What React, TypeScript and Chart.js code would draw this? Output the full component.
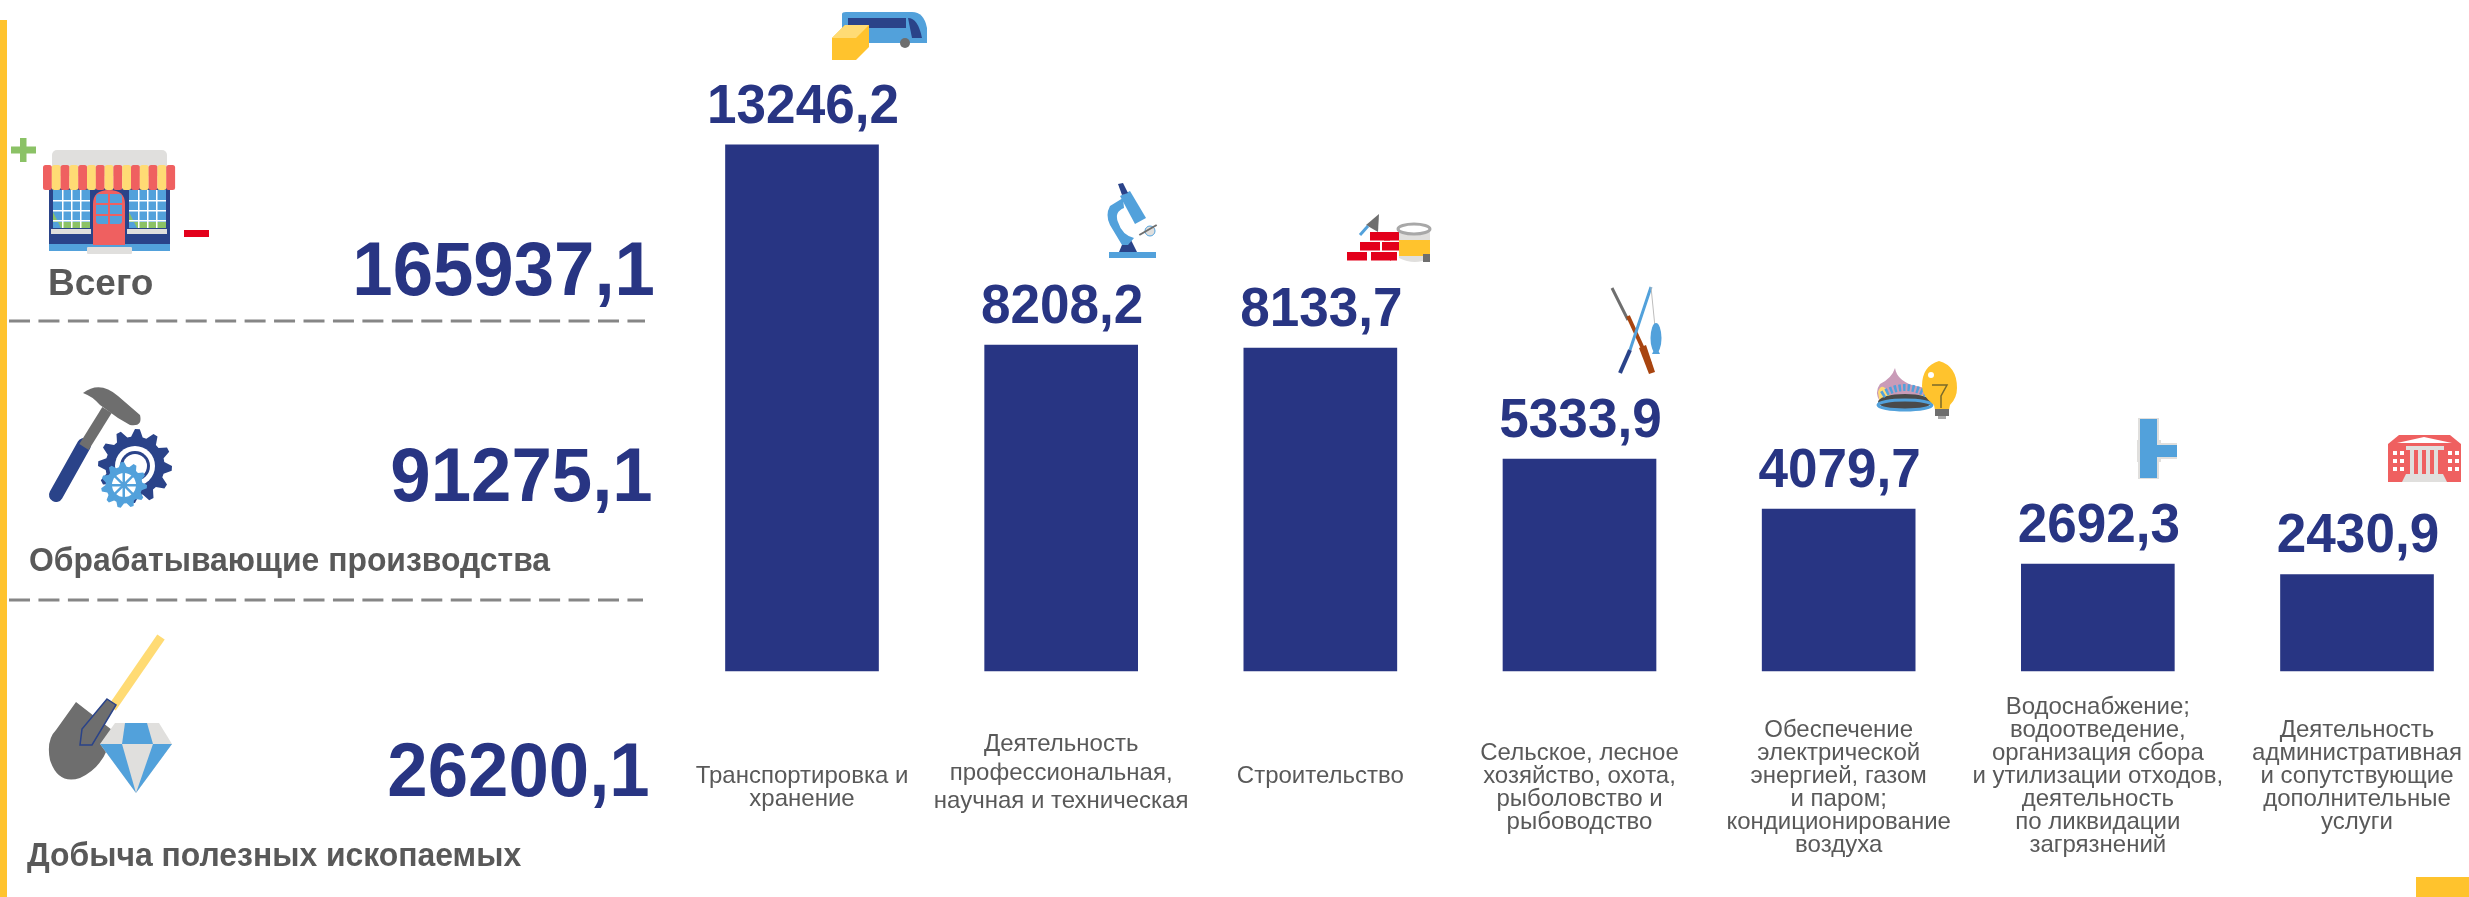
import React, { useEffect, useRef } from "react";
import { Chart, registerables } from "chart.js";

Chart.register(...registerables);

const categories: string[][] = [
  ["Транспортировка и", "хранение"],
  ["Деятельность", "профессиональная,", "научная и техническая"],
  ["Строительство"],
  ["Сельское, лесное", "хозяйство, охота,", "рыболовство и", "рыбоводство"],
  ["Обеспечение", "электрической", "энергией, газом", "и паром;", "кондиционирование", "воздуха"],
  ["Водоснабжение;", "водоотведение,", "организация сбора", "и утилизации отходов,", "деятельность", "по ликвидации", "загрязнений"],
  ["Деятельность", "административная", "и сопутствующие", "дополнительные", "услуги"],
];
const seriesValues = [13246.2, 8208.2, 8133.7, 5333.9, 4079.7, 2692.3, 2430.9];
const kpiNames = ["Всего", "Обрабатывающие производства", "Добыча полезных ископаемых"];
const kpiValues = ["165937,1", "91275,1", "26200,1"];

const NAVY = "#283583";
const GREY = "#595959";
const BLUE = "#52A1DB";
const RED = "#EF6060";
const YEL = "#FFC32D";
const LYEL = "#FFDB74";
const DGREY = "#6E6E6E";
const LGREY = "#E0DFDD";
const GREEN = "#8BC266";
const FONT = "'Liberation Sans', Arial, sans-serif";

const fmt = (v: number) => v.toFixed(1).replace(".", ",");

const valueLabels = {
  id: "valueLabels",
  afterDatasetsDraw(chart: any) {
    const { ctx } = chart;
    const meta = chart.getDatasetMeta(0);
    meta.data.forEach((bar: any, i: number) => {
      ctx.save();
      ctx.font = `bold 55px ${FONT}`;
      ctx.fillStyle = NAVY;
      ctx.textAlign = "center";
      ctx.textBaseline = "alphabetic";
      ctx.translate(bar.x + 1, bar.y - 22);
      ctx.scale(0.965, 1);
      ctx.fillText(fmt(seriesValues[i]), 0, 0);
      ctx.restore();
    });
  },
};

function gearPath(cx: number, cy: number, r: number, teeth: number) {
  const pts: string[] = [];
  const n = teeth * 4;
  for (let i = 0; i < n; i++) {
    const a = (i / n) * Math.PI * 2;
    const rr = i % 4 < 2 ? r : r * 0.8;
    pts.push(`${(cx + rr * Math.cos(a)).toFixed(1)},${(cy + rr * Math.sin(a)).toFixed(1)}`);
  }
  return "M" + pts.join("L") + "Z";
}

function Shop() {
  const stripes = Array.from({ length: 15 }, (_, i) => i);
  return (
    <g>
      <rect x={52} y={150} width={115} height={26} rx={5} fill={LGREY} />
      <rect x={49} y={188} width={121} height={62} fill="#2A4389" />
      <rect x={49} y={244} width={121} height={7} fill={BLUE} />
      {[53, 129].map((x) => (
        <g key={x}>
          <rect x={x} y={190} width={37} height={38} fill={BLUE} />
          <path d={`M${x} 228V212L${x + 8} 228ZM${x} 228H${x + 37}V222H${x}Z`} fill={GREEN} />
          {[9, 18, 27].map((d) => (
            <rect key={d} x={x + d} y={190} width={1.5} height={38} fill="#fff" />
          ))}
          {[200, 210, 220].map((y) => (
            <rect key={y} x={x} y={y} width={37} height={1.5} fill="#fff" />
          ))}
          <rect x={x - 2} y={229} width={40} height={5} fill={LGREY} />
        </g>
      ))}
      <path d="M93 245V204Q93 190 109 190Q125 190 125 204V245Z" fill={RED} />
      <rect x={96} y={194} width={26} height={30} rx={3} fill={BLUE} />
      <rect x={108} y={192} width={2} height={34} fill={RED} />
      <rect x={96} y={203} width={26} height={2} fill={RED} />
      <rect x={96} y={214} width={26} height={2} fill={RED} />
      <rect x={87} y={247} width={45} height={7} rx={1} fill={LGREY} />
      {stripes.map((i) => (
        <rect key={i} x={43 + i * 8.8} y={165} width={8.9} height={25} rx={2.5} fill={i % 2 ? LYEL : RED} />
      ))}
      <path d="M20 138h6.5v8.5h9.5v7h-9.5v8.500h-6.500v-8.500h-9v-7h9z" fill={GREEN} />
      <rect x={184} y={230} width={25} height={7} fill="#E3001B" />
    </g>
  );
}

function Tools() {
  return (
    <g>
      <path d={gearPath(135, 466, 37, 12)} fill="#2A4389" />
      <circle cx={135} cy={466} r={20} fill="#fff" />
      <circle cx={135} cy={466} r={15} fill="#2A4389" />
      <circle cx={135} cy={466} r={12} fill="#fff" />
      <path d="M56 495L84 445" stroke="#2A4389" strokeWidth={14} strokeLinecap="round" />
      <path d="M84 447L107 410" stroke={DGREY} strokeWidth={11} />
      <path d="M83 393Q100 380 118 396L140 415Q143 427 130 425L118 418L100 405Q92 396 83 393Z" fill={DGREY} />
      <path d={gearPath(124, 485, 23, 11)} fill={BLUE} />
      <circle cx={124} cy={485} r={12} fill="#fff" />
      <circle cx={124} cy={485} r={3} fill="#2A4389" />
      {[0, 45, 90, 135].map((a) => (
        <rect key={a} x={106} y={484} width={36} height={2.5} fill={BLUE} transform={`rotate(${a} 124 485)`} />
      ))}
    </g>
  );
}

function Shovel() {
  return (
    <g>
      <path d="M161 637L112 708" stroke={LYEL} strokeWidth={9} fill="none" />
      <path d="M76 702L112 730Q108 765 80 778Q58 785 50 760Q46 740 56 730Z" fill={DGREY} />
      <path d="M107 699L116 705L92 745L80 745L82 729Z" fill={DGREY} stroke="#2A4389" strokeWidth={1.5} />
      <path d="M115 723H159L172 744L136 793L100 744Z" fill={LGREY} />
      <path d="M125 723H147L153 744H122Z" fill={BLUE} />
      <path d="M100 744H122L136 793Z" fill={BLUE} />
      <path d="M153 744H172L136 793Z" fill={BLUE} />
    </g>
  );
}

function Transport() {
  return (
    <g>
      <path d="M842 14Q842 12 846 12H912Q924 12 927 28V43H842Z" fill={BLUE} />
      <rect x={848} y={18} width={58} height={10} fill="#2A4389" />
      <path d="M908 18Q918 18 922 38H912Z" fill="#2A4389" />
      <circle cx={905} cy={43} r={5} fill={DGREY} />
      <path d="M832 38L845 25H869V47L856 60H832Z" fill={YEL} />
      <path d="M832 38L845 25H869L856 38Z" fill={LYEL} />
    </g>
  );
}

function Microscope() {
  return (
    <g>
      <rect x={1109} y={252} width={47} height={6} fill={BLUE} />
      <path d="M1119 252L1124 240H1131L1137 252Z" fill="#2A4389" />
      <path d="M1123 198L1110 206Q1105 215 1110 225L1122 245H1128L1134 238Q1122 235 1118 222Q1114 212 1124 208Z" fill={BLUE} />
      <path d="M1120 196L1130 191L1146 218L1135 224Z" fill={BLUE} />
      <path d="M1118 184L1123 183L1128 193L1122 195Z" fill="#2A4389" />
      <circle cx={1150} cy={231} r={5} fill={LGREY} stroke={BLUE} />
      <rect x={1138} y={229} width={20} height={2} fill={DGREY} transform="rotate(-30 1148 230)" />
    </g>
  );
}

function Bricks() {
  const bricks = [
    [1370, 232], [1384, 232], [1360, 242], [1382, 242], [1347, 252], [1371, 252], [1390, 252],
  ];
  return (
    <g>
      {bricks.map(([x, y]) => (
        <rect key={`${x}-${y}`} x={x} y={y} width={x === 1390 ? 7 : 20} height={8.5} fill="#E3001B" />
      ))}
      <path d="M1379 214L1378 232L1366 225Z" fill={DGREY} />
      <path d="M1360 235L1368 226" stroke={BLUE} strokeWidth={3} />
      <path d="M1399 230H1430V258Q1415 266 1399 258Z" fill={LGREY} />
      <rect x={1399} y={240} width={31} height={16} fill={YEL} />
      <rect x={1423} y={254} width={7} height={8} fill={DGREY} />
      <ellipse cx={1414} cy={229} rx={16} ry={5} fill="#fff" stroke="#A8A8A8" strokeWidth={3} />
    </g>
  );
}

function Fishing() {
  return (
    <g>
      <path d="M1612 288L1628 320" stroke={DGREY} strokeWidth={3} />
      <path d="M1628 316L1650 364" stroke="#A8440F" strokeWidth={4} />
      <path d="M1639 348L1649 374L1655 372L1646 345Z" fill="#A8440F" />
      <path d="M1651 287L1630 350" stroke={BLUE} strokeWidth={3} />
      <path d="M1630 350L1620 373" stroke="#2A4389" strokeWidth={4} />
      <path d="M1651 287L1655 327" stroke="#BDBDBD" strokeWidth={1} />
      <ellipse cx={1656} cy={338} rx={5.5} ry={15} fill={BLUE} />
      <path d="M1654 350L1652 354H1660L1658 350Z" fill={BLUE} />
    </g>
  );
}

function Burner() {
  return (
    <g>
      <path d="M1895 368Q1897 380 1912 385L1925 388V402H1880Q1874 392 1880 384Q1892 378 1895 368Z" fill="#C99BB8" />
      <path d="M1878 392Q1882 380 1890 395H1925V405H1880Z" fill={LYEL} />
      <ellipse cx={1905} cy={402} rx={27} ry={8} fill="#4A4A4A" />
      <path d="M1882 395Q1905 380 1928 395" stroke={BLUE} strokeWidth={7} fill="none" strokeDasharray="2.5 2" />
      <ellipse cx={1905} cy={405} rx={27} ry={5} fill="none" stroke={BLUE} strokeWidth={3} />
      <path d="M1939 361Q1957 366 1957 388Q1957 398 1950 405L1949 410H1935L1934 405Q1922 396 1922 386Q1922 366 1939 361Z" fill={YEL} />
      <rect x={1935} y={409} width={14} height={7} fill={DGREY} />
      <rect x={1938} y={416} width={8} height={3} fill="#A8A8A8" />
      <path d="M1932 385H1947L1941 396V408M1941 396" stroke="#7A6A2A" strokeWidth={1.5} fill="none" />
      <circle cx={1931} cy={375} r={3} fill="#fff" />
    </g>
  );
}

function Pipe() {
  return (
    <g>
      <rect x={2137} y={440} width={24} height={22} fill={LGREY} />
      <rect x={2138} y={418} width={21} height={61} fill={LGREY} />
      <rect x={2140} y={419} width={17} height={59} fill={BLUE} />
      <rect x={2157} y={443} width={20} height={16} fill={LGREY} />
      <rect x={2157} y={445} width={20} height={12} fill={BLUE} />
    </g>
  );
}

function Building() {
  const wins = [2393, 2400, 2448, 2455];
  return (
    <g>
      <path d="M2388 444L2399 435H2450L2461 444V482H2388Z" fill={RED} />
      <path d="M2397 443L2424 437L2452 443Z" fill="#fff" />
      <rect x={2406} y={446} width={38} height={4} fill={LGREY} />
      {[2410, 2418, 2426, 2434].map((x) => (
        <rect key={x} x={x} y={449} width={4} height={25} fill={LGREY} />
      ))}
      {wins.map((x) =>
        [451, 459, 467].map((y) => <rect key={`${x}${y}`} x={x} y={y} width={4} height={4} fill="#fff" />)
      )}
      <path d="M2406 474H2443L2447 482H2402Z" fill={LGREY} />
    </g>
  );
}

const kpiStyle = (top: number, size: number, color: string, sx: number, origin: string): React.CSSProperties => ({
  position: "absolute",
  top,
  lineHeight: 1,
  fontFamily: FONT,
  fontWeight: 700,
  fontSize: size,
  color,
  whiteSpace: "nowrap",
  transform: `scaleX(${sx})`,
  transformOrigin: origin,
});

export default function App() {
  const ref = useRef<HTMLCanvasElement>(null);

  useEffect(() => {
    const chart = new Chart(ref.current!, {
      type: "bar",
      data: {
        labels: categories,
        datasets: [
          {
            data: seriesValues,
            backgroundColor: NAVY,
            barThickness: 153,
            clip: false,
          } as any,
        ],
      },
      plugins: [valueLabels],
      options: {
        animation: false,
        responsive: false,
        layout: { padding: { left: 802, right: 112, top: 115, bottom: 0 } },
        plugins: { legend: { display: false }, tooltip: { enabled: false } },
        scales: {
          x: {
            offset: false,
            grid: { display: false, drawTicks: false },
            border: { display: false },
            afterFit(scale: any) {
              scale.paddingLeft = 0;
              scale.paddingRight = 0;
              scale.height = 226;
            },
            ticks: {
              autoSkip: false,
              maxRotation: 0,
              minRotation: 0,
              padding: 36,
              crossAlign: "center",
              color: GREY,
              callback: (_v: any, i: number) =>
                categories[i].length % 2 === 0 ? ["", ...categories[i]] : categories[i],
              font: (c: any) => ({
                family: FONT,
                size: 24,
                lineHeight: c.index === 1 ? 1.2 : 0.958,
              }),
            },
          },
          y: { display: false, min: 0, max: 14000 },
        },
      },
    } as any);
    return () => chart.destroy();
  }, []);

  return (
    <div style={{ position: "absolute", left: 0, top: 0, width: 2469, height: 897, overflow: "hidden", background: "#fff" }}>
      <canvas ref={ref} width={2469} height={897} style={{ position: "absolute", left: 0, top: 0 }} />
      <svg width={2469} height={897} style={{ position: "absolute", left: 0, top: 0 }}>
        <rect x={0} y={20} width={7} height={877} fill={YEL} />
        <rect x={2416} y={877} width={53} height={20} fill={YEL} />
        <line x1={9} y1={321} x2={645} y2={321} stroke="#868686" strokeWidth={3} strokeDasharray="21 8.45" />
        <line x1={9} y1={600} x2={643} y2={600} stroke="#868686" strokeWidth={3} strokeDasharray="21 8.45" />
        <Shop />
        <Tools />
        <Shovel />
        <Transport />
        <Microscope />
        <Bricks />
        <Fishing />
        <Burner />
        <Pipe />
        <Building />
      </svg>
      <div style={{ ...kpiStyle(264, 37, GREY, 1, "left"), left: 48 }}>{kpiNames[0]}</div>
      <div style={{ ...kpiStyle(543, 33, GREY, 0.966, "left"), left: 29 }}>{kpiNames[1]}</div>
      <div style={{ ...kpiStyle(838, 33, GREY, 0.966, "left"), left: 27 }}>{kpiNames[2]}</div>
      <div style={{ ...kpiStyle(231, 76, NAVY, 0.955, "right"), right: 2469 - 655 }}>{kpiValues[0]}</div>
      <div style={{ ...kpiStyle(437, 76, NAVY, 0.955, "right"), right: 2469 - 653 }}>{kpiValues[1]}</div>
      <div style={{ ...kpiStyle(732, 76, NAVY, 0.955, "right"), right: 2469 - 650 }}>{kpiValues[2]}</div>
    </div>
  );
}
